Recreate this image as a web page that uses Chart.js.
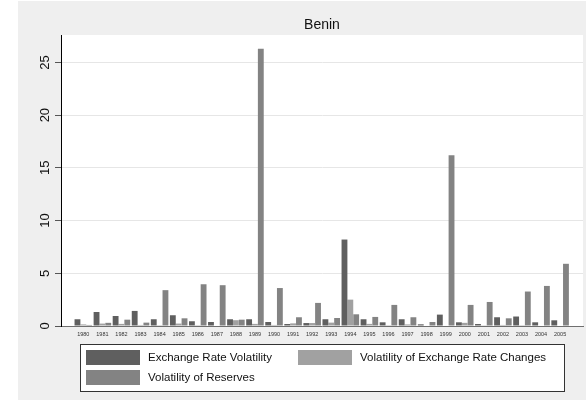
<!DOCTYPE html>
<html>
<head>
<meta charset="utf-8">
<script src="https://cdn.jsdelivr.net/npm/chart.js@4.4.1/dist/chart.umd.min.js"></script>
<style>
  html, body { margin: 0; padding: 0; background: #ffffff; }
  #wrap { width: 586px; height: 400px; }
</style>
</head>
<body>
<div id="wrap"><canvas id="c" width="586" height="400"></canvas></div>
<script>
// Benin: yearly volatility measures, 1980-2005
const years = [1980, 1981, 1982, 1983, 1984, 1985, 1986, 1987, 1988, 1989,
               1990, 1991, 1992, 1993, 1994, 1995, 1996, 1997, 1998, 1999,
               2000, 2001, 2002, 2003, 2004, 2005];

const exchangeRateVolatility = [0.64, 1.33, 0.95, 1.43, 0.64, 1.02, 0.45, 0.38, 0.64, 0.64,
                                0.38, 0.19, 0.28, 0.64, 8.20, 0.64, 0.35, 0.64, 0.16, 1.08,
                                0.35, 0.19, 0.83, 0.90, 0.35, 0.54];

const exchangeRateChangeVolatility = [0.15, 0.23, 0.20, 0.10, 0.08, 0.23, 0.08, 0.05, 0.55, 0.20,
                                      0.10, 0.25, 0.28, 0.32, 2.50, 0.20, 0.08, 0.15, 0.05, 0.05,
                                      0.30, 0.07, 0.10, 0.08, 0.05, 0.05];

const reservesVolatility = [0.10, 0.30, 0.60, 0.32, 3.40, 0.73, 3.96, 3.87, 0.60, 26.30,
                            3.60, 0.83, 2.19, 0.76, 1.11, 0.86, 2.00, 0.83, 0.38, 16.20,
                            2.00, 2.28, 0.73, 3.27, 3.80, 5.90];

const seriesNames = ['Exchange Rate Volatility', 'Volatility of Exchange Rate Changes', 'Volatility of Reserves'];
const yTicks = [0, 5, 10, 15, 20, 25];
const chartTitle = 'Benin';

const FONT = '"Liberation Sans", Arial, Helvetica, sans-serif';
const BG = '#efefef';

// Page backdrop and white plot region
const backdrop = {
  id: 'backdrop',
  beforeDraw(chart) {
    const { ctx, chartArea: a } = chart;
    ctx.save();
    ctx.fillStyle = '#ffffff';
    ctx.fillRect(0, 0, chart.width, chart.height);
    ctx.fillStyle = BG;
    ctx.fillRect(18, 1, chart.width - 18, chart.height - 1);
    ctx.fillStyle = '#ffffff';
    ctx.fillRect(a.left, a.top, a.right - a.left, a.bottom - a.top + 1);
    ctx.restore();
  }
};

// Vertical (rotated) value labels on the left axis
const rotatedYLabels = {
  id: 'rotatedYLabels',
  afterDraw(chart) {
    const { ctx } = chart;
    const ys = chart.scales.y;
    ctx.save();
    ctx.fillStyle = '#111';
    ctx.font = '13px ' + FONT;
    ctx.textAlign = 'center';
    ctx.textBaseline = 'middle';
    ys.ticks.forEach(t => {
      const py = ys.getPixelForValue(t.value);
      ctx.save();
      ctx.translate(45, py);
      ctx.rotate(-Math.PI / 2);
      ctx.fillText(String(t.value), 0, 0);
      ctx.restore();
    });
    ctx.restore();
  }
};

// Boxed two-column legend under the plot
const boxedLegend = {
  id: 'boxedLegend',
  afterDraw(chart) {
    const { ctx } = chart;
    const box = { x: 80.5, y: 344.5, w: 484, h: 47 };
    ctx.save();
    ctx.fillStyle = '#ffffff';
    ctx.fillRect(box.x, box.y, box.w, box.h);
    ctx.strokeStyle = '#333';
    ctx.lineWidth = 1;
    ctx.strokeRect(box.x, box.y, box.w, box.h);
    const slots = [
      { sx: 86, sy: 350 },
      { sx: 298, sy: 350 },
      { sx: 86, sy: 370 }
    ];
    ctx.font = '11.5px ' + FONT;
    ctx.textAlign = 'left';
    ctx.textBaseline = 'middle';
    chart.data.datasets.forEach((ds, i) => {
      const s = slots[i];
      ctx.fillStyle = ds.backgroundColor;
      ctx.fillRect(s.sx, s.sy, 54, 15);
      ctx.fillStyle = '#111';
      ctx.fillText(ds.label, s.sx + 62, s.sy + 8);
    });
    ctx.restore();
  }
};

const colors = ['#5f5f5f', '#a1a1a1', '#838383'];
const values = [exchangeRateVolatility, exchangeRateChangeVolatility, reservesVolatility];

new Chart(document.getElementById('c'), {
  type: 'bar',
  data: {
    labels: years,
    datasets: seriesNames.map((name, i) => ({
      label: name,
      data: values[i],
      backgroundColor: colors[i],
      borderWidth: 0,
      categoryPercentage: 0.92,
      barPercentage: 1.0
    }))
  },
  options: {
    responsive: false,
    animation: false,
    devicePixelRatio: 1,
    layout: { padding: { left: 18, right: 3, top: 0, bottom: 54 } },
    plugins: {
      legend: { display: false },
      tooltip: { enabled: false },
      title: {
        display: true,
        text: chartTitle,
        fullSize: false,
        color: '#111',
        font: { family: FONT, size: 14, weight: 'normal', lineHeight: 1.2 },
        padding: { top: 17, bottom: 1.2 }
      }
    },
    scales: {
      x: {
        type: 'linear',
        offset: false,
        min: 1978.83,
        max: 2006.2,
        afterBuildTicks: s => { s.ticks = years.map(v => ({ value: v })); },
        afterFit: s => { s.height = 20; },
        ticks: {
          autoSkip: false,
          maxRotation: 0,
          minRotation: 0,
          padding: 5,
          color: '#333',
          font: { family: FONT, size: 5.5 },
          callback: v => String(v)
        },
        grid: { display: false, drawTicks: false },
        border: { display: true, color: '#6f6f6f', width: 1 }
      },
      y: {
        min: 0,
        max: 27.6,
        afterBuildTicks: s => { s.ticks = yTicks.map(v => ({ value: v })); },
        afterFit: s => { s.width = 43; },
        ticks: { display: false },
        grid: { color: '#e6e6e6', lineWidth: 1, drawTicks: true, tickLength: 6, tickColor: '#555' },
        border: { display: true, color: '#000', width: 1 }
      }
    }
  },
  plugins: [backdrop, rotatedYLabels, boxedLegend]
});
</script>
</body>
</html>
